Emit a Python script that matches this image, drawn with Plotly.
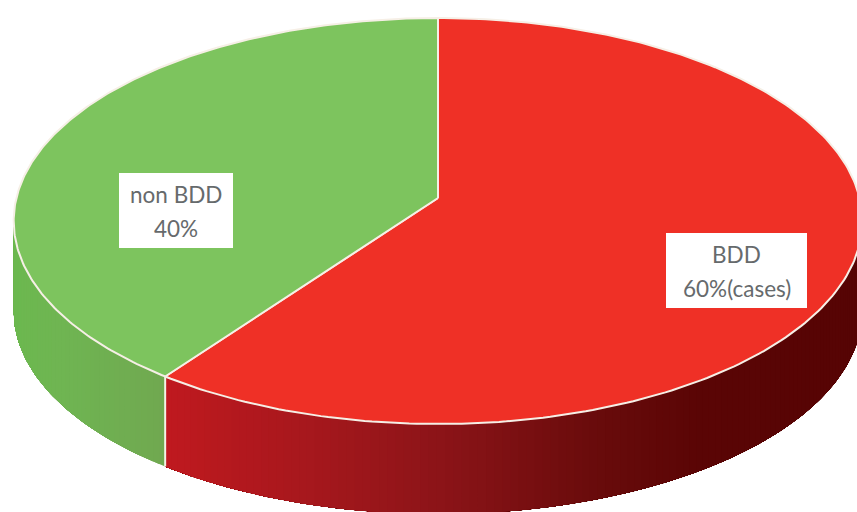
import numpy as np
import plotly.graph_objects as go

# Data
categories = ["BDD", "non BDD"]
shares = [60, 40]
label_lines = [["BDD", "60%(cases)"], ["non BDD", "40%"]]

# Style
top_colors = ["#EF3026", "#7DC45E"]
side_stops_x = {
    "BDD": ([165, 300, 440, 600, 700, 860], ["#C0191F", "#A8181D", "#8C1418", "#680B0B", "#5A0505", "#560404"]),
    "non BDD": ([14, 60, 165], ["#6CB84F", "#6FB552", "#70A850"]),
}
W, H = 857, 512
CX, CY, A, B, P = 438.0, 198.0, 421.6, 200.4, 0.1133
DEPTH = 90.0
label_boxes = {"BDD": (666, 233, 807, 308), "non BDD": (119, 173, 233, 248)}


def project(theta_deg):
    t = np.radians(theta_deg)
    u, v = np.sin(t), np.cos(t)
    d = 1 + P * v
    return CX + A * u / d, CY - B * v / d


def hex2rgb(h):
    return np.array([int(h[i:i + 2], 16) for i in (1, 3, 5)], float)


def side_color(cat, x):
    xs, cols = side_stops_x[cat]
    arr = np.array([hex2rgb(c) for c in cols])
    rgb = [np.interp(x, xs, arr[:, i]) for i in range(3)]
    return "rgb(%d,%d,%d)" % tuple(round(c) for c in rgb)


fig = go.Figure()
total = sum(shares)
angles = np.cumsum([0] + shares) * 360.0 / total
no_hover = dict(hoverinfo="skip", showlegend=False)
SIL = float(np.degrees(np.arccos(-P)))

# Side wall: overlapping bands painted in order, so the gradient has no seams
for i, cat in enumerate(categories):
    a0, a1 = max(angles[i], SIL), min(angles[i + 1], 360 - SIL)
    if a1 <= a0:
        continue
    n = int((a1 - a0) / 1.0) + 1
    edges = np.linspace(a0, a1, n + 1)
    for e0, e1 in zip(edges[:-1], edges[1:]):
        th = np.linspace(e0, a1, max(3, int(a1 - e0) + 3))
        x, y = project(th)
        cx = project((e0 + e1) / 2)[0]
        col = side_color(cat, cx)
        fig.add_trace(go.Scatter(
            x=np.r_[x, x[::-1]], y=np.r_[y, y[::-1] + DEPTH],
            mode="lines", fill="toself", fillcolor=col,
            line=dict(width=0), **no_hover))

# Seam between the slices on the wall
sx, sy = project(angles[1])
fig.add_trace(go.Scatter(x=[sx, sx], y=[sy, sy + DEPTH], mode="lines",
                         line=dict(color="#F3F3E6", width=2), **no_hover))

# Top face
for i, cat in enumerate(categories):
    th = np.linspace(angles[i], angles[i + 1], 240)
    x, y = project(th)
    fig.add_trace(go.Scatter(
        x=np.r_[CX, x, CX], y=np.r_[CY, y, CY], mode="lines", fill="toself",
        fillcolor=top_colors[i], line=dict(color="#F6EFE6", width=2),
        name=cat, hoverinfo="name", showlegend=False))

# Labels
shapes, annotations = [], []
for cat, lines in zip(categories, label_lines):
    x0, y0, x1, y1 = label_boxes[cat]
    shapes.append(dict(type="rect", x0=x0, x1=x1, y0=y0, y1=y1, xref="x", yref="y",
                       fillcolor="white", line=dict(width=0), layer="above"))
    for k, line in enumerate(lines):
        annotations.append(dict(
            x=(x0 + x1) / 2, y=y0 + (y1 - y0) * (0.29 + 0.45 * k), text=line,
            xref="x", yref="y", showarrow=False, xanchor="center", yanchor="middle",
            font=dict(family="Lato", size=22.5, color="#666A6C")))

fig.update_layout(
    width=W, height=H, margin=dict(l=0, r=0, t=0, b=0),
    paper_bgcolor="white", plot_bgcolor="white",
    xaxis=dict(range=[0, W], visible=False, fixedrange=True),
    yaxis=dict(range=[H, 0], visible=False, fixedrange=True),
    shapes=shapes, annotations=annotations,
)
fig.write_html("out.html", config={"displayModeBar": False},
               post_script="document.body.style.margin='0';document.documentElement.style.overflow='hidden';")
